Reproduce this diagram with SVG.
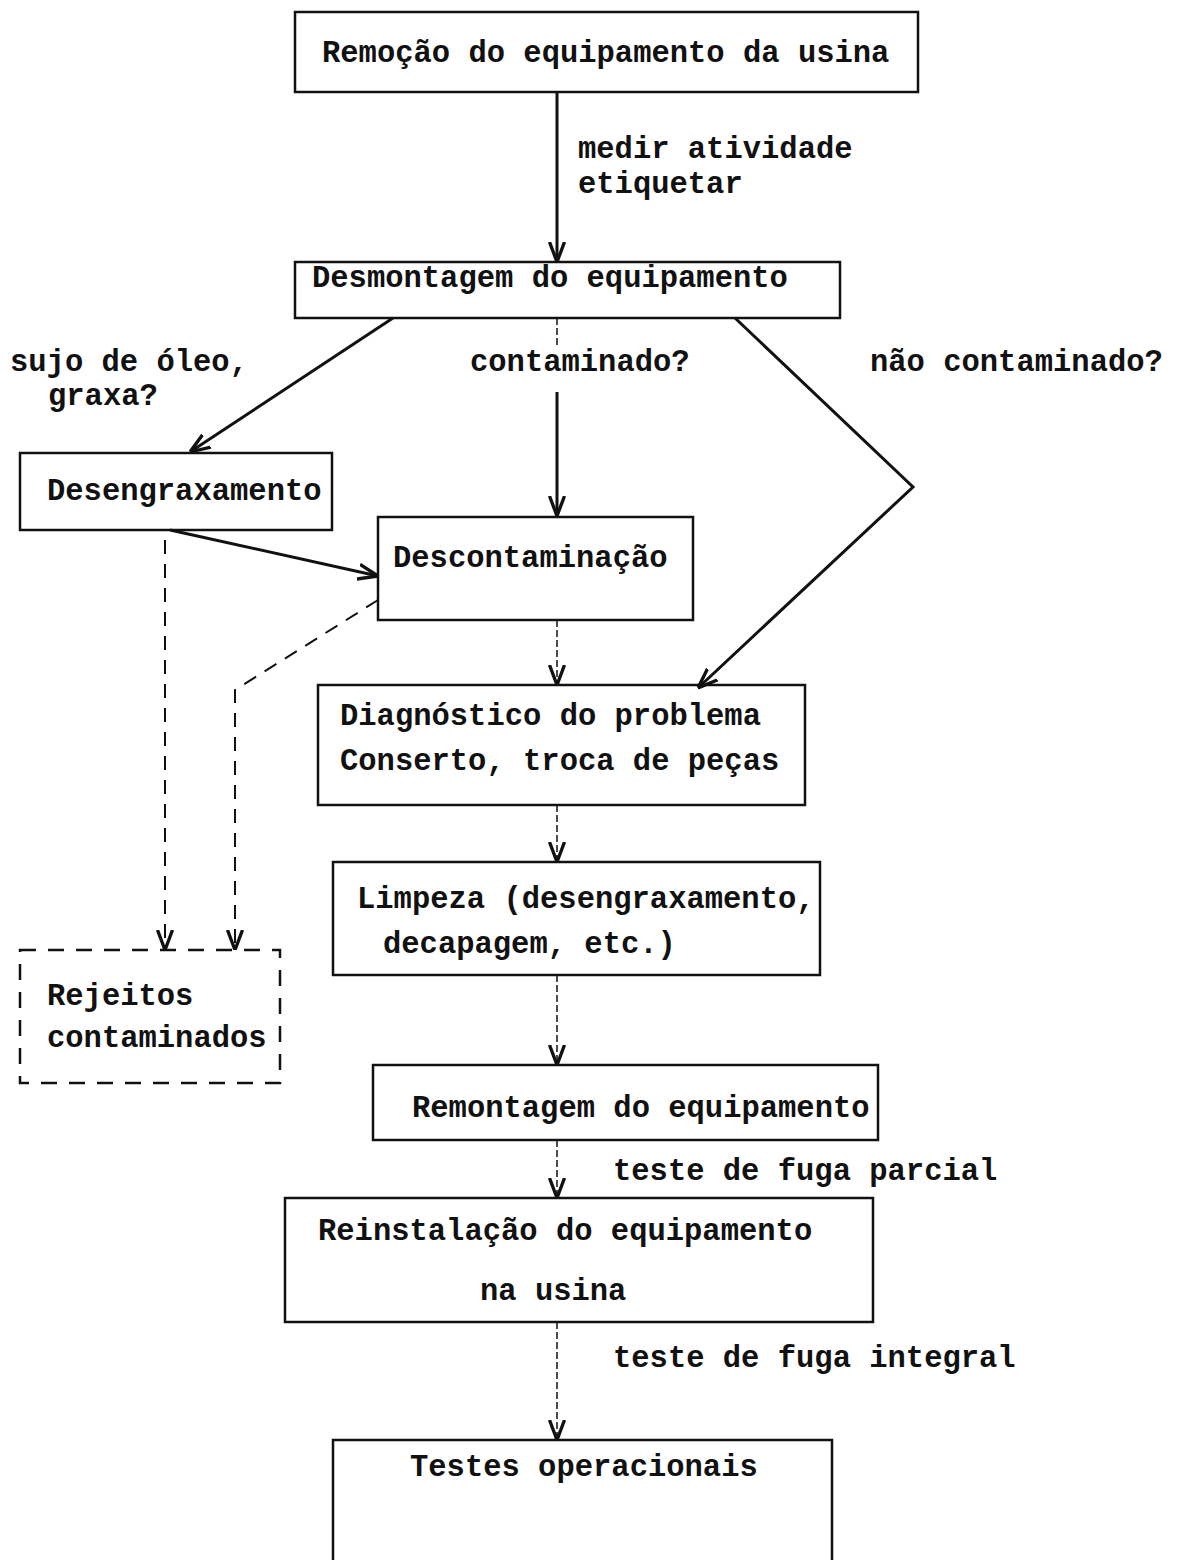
<svg xmlns="http://www.w3.org/2000/svg" width="1183" height="1560" viewBox="0 0 1183 1560">
<style>
text{font-family:"Liberation Mono","DejaVu Sans Mono",monospace;font-size:30.5px;font-weight:bold;fill:#111}
.box{fill:none;stroke:#111;stroke-width:2.5}
.dbox{fill:none;stroke:#111;stroke-width:2.5;stroke-dasharray:16 12}
.solid{fill:none;stroke:#111;stroke-width:3}
.thin{fill:none;stroke:#111;stroke-width:1.5;stroke-dasharray:7 3}
.dash{fill:none;stroke:#111;stroke-width:2;stroke-dasharray:14 10}
</style>
<defs>
<marker id="v" viewBox="0 0 12 12" refX="12" refY="6" markerUnits="userSpaceOnUse" markerWidth="20" markerHeight="20" orient="auto">
<path d="M0,1.5 L12,6 L0,10.5" fill="none" stroke="#111" stroke-width="2"/>
</marker>
</defs>
<rect width="1183" height="1560" fill="#fff"/>
<g id="connectors">
<line class="solid" x1="557" y1="92" x2="557" y2="262" marker-end="url(#v)"/>
<line class="solid" x1="393" y1="318" x2="190" y2="452" marker-end="url(#v)"/>
<line class="thin" x1="557" y1="318" x2="557" y2="345"/>
<line class="solid" x1="557" y1="392" x2="557" y2="516" marker-end="url(#v)"/>
<polyline class="solid" points="735,318 913,487 698,688" marker-end="url(#v)"/>
<line class="solid" x1="170" y1="530" x2="378" y2="576" marker-end="url(#v)"/>
<polyline class="dash" points="378,600 235,690 235,950" marker-end="url(#v)"/>
<line class="dash" x1="165" y1="540" x2="165" y2="950" marker-end="url(#v)"/>
<line class="thin" x1="557" y1="620" x2="557" y2="685" marker-end="url(#v)"/>
<line class="thin" x1="557" y1="805" x2="557" y2="862" marker-end="url(#v)"/>
<line class="thin" x1="557" y1="975" x2="557" y2="1065" marker-end="url(#v)"/>
<line class="thin" x1="557" y1="1140" x2="557" y2="1198" marker-end="url(#v)"/>
<line class="thin" x1="557" y1="1322" x2="557" y2="1440" marker-end="url(#v)"/>
</g>
<g id="labels">
<text x="578" y="158">medir atividade</text>
<text x="578" y="193">etiquetar</text>
<text x="10" y="371">sujo de óleo,</text>
<text x="48" y="405">graxa?</text>
<text x="470" y="371">contaminado?</text>
<text x="870" y="371">não contaminado?</text>
<text x="613" y="1180">teste de fuga parcial</text>
<text x="613" y="1367">teste de fuga integral</text>
</g>
<g id="n1"><rect class="box" x="295" y="12" width="623" height="80"/><text x="322" y="62">Remoção do equipamento da usina</text></g>
<g id="n2"><rect class="box" x="295" y="262" width="545" height="56"/><text x="312" y="287">Desmontagem do equipamento</text></g>
<g id="n3"><rect class="box" x="20" y="453" width="312" height="77"/><text x="47" y="500">Desengraxamento</text></g>
<g id="n4"><rect class="box" x="378" y="517" width="315" height="103"/><text x="393" y="567">Descontaminação</text></g>
<g id="n5"><rect class="dbox" x="20" y="950" width="260" height="133"/><text x="47" y="1005">Rejeitos</text><text x="47" y="1047">contaminados</text></g>
<g id="n6"><rect class="box" x="318" y="685" width="487" height="120"/><text x="340" y="725">Diagnóstico do problema</text><text x="340" y="770">Conserto, troca de peças</text></g>
<g id="n7"><rect class="box" x="333" y="862" width="487" height="113"/><text x="357" y="908">Limpeza (desengraxamento,</text><text x="383" y="953">decapagem, etc.)</text></g>
<g id="n8"><rect class="box" x="373" y="1065" width="505" height="75"/><text x="412" y="1117">Remontagem do equipamento</text></g>
<g id="n9"><rect class="box" x="285" y="1198" width="588" height="124"/><text x="318" y="1240">Reinstalação do equipamento</text><text x="480" y="1300">na usina</text></g>
<g id="n10"><path class="box" d="M333,1562 L333,1440 L832,1440 L832,1562"/><text x="410" y="1476">Testes operacionais</text></g>
</svg>
